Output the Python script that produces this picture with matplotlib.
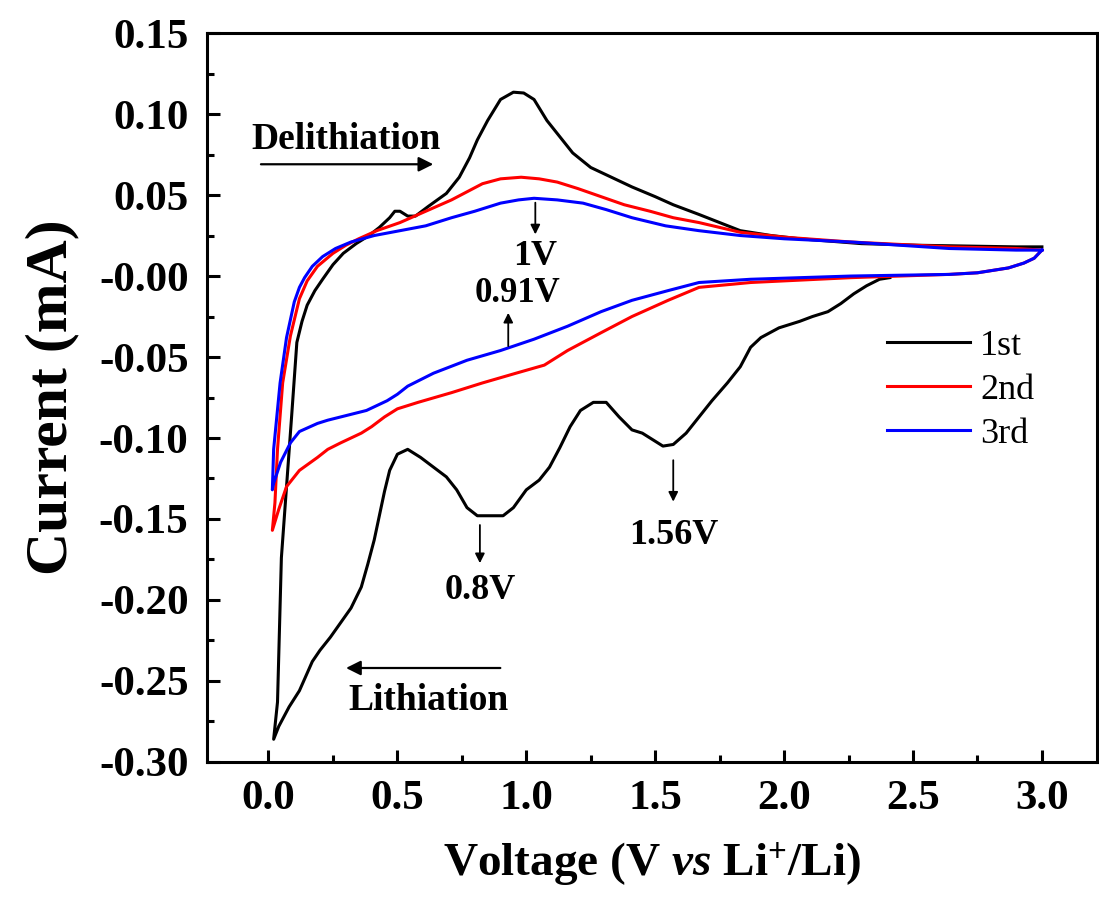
# Cyclic voltammetry curves, first three cycles
import numpy as np
import matplotlib.pyplot as plt

plt.rcParams['font.family'] = ['Liberation Serif', 'DejaVu Serif']
plt.rcParams['mathtext.fontset'] = 'custom'
plt.rcParams['mathtext.rm'] = 'Liberation Serif:bold'
plt.rcParams['mathtext.it'] = 'Liberation Serif:bold:italic'
plt.rcParams['mathtext.bf'] = 'Liberation Serif:bold'

# 1st cycle: from OCV down to 0.01 V, then back up to 3.0 V
v1 = [2.41, 2.37, 2.32, 2.27, 2.22, 2.17, 2.11, 2.06, 1.98, 1.91, 1.87, 1.83, 1.78,
      1.72, 1.67, 1.62, 1.57, 1.53, 1.49, 1.45, 1.41, 1.36, 1.31, 1.26, 1.21, 1.17,
      1.13, 1.09, 1.05, 1.00, 0.95, 0.91, 0.86, 0.81, 0.77, 0.73, 0.69, 0.64, 0.59,
      0.54, 0.50, 0.47, 0.45, 0.43, 0.41, 0.385, 0.36, 0.32, 0.28, 0.24, 0.20, 0.17,
      0.12, 0.08, 0.04, 0.02,
      0.035, 0.05, 0.07, 0.09, 0.11, 0.13, 0.15, 0.18, 0.21, 0.25, 0.29, 0.34, 0.39,
      0.43, 0.47, 0.49, 0.51, 0.54, 0.57, 0.62, 0.69, 0.74, 0.78, 0.81, 0.85, 0.90,
      0.95, 0.99, 1.03, 1.08, 1.13, 1.18, 1.25, 1.29, 1.41, 1.50, 1.57, 1.67, 1.75,
      1.83, 1.95, 2.06, 2.30, 2.52, 2.90, 3.00]
i1 = [-0.001, -0.002, -0.006, -0.011, -0.017, -0.022, -0.025, -0.028, -0.032, -0.038,
      -0.044, -0.056, -0.066, -0.077, -0.087, -0.097, -0.104, -0.105, -0.101, -0.097,
      -0.095, -0.087, -0.078, -0.078, -0.083, -0.093, -0.106, -0.118, -0.126, -0.132,
      -0.143, -0.148, -0.148, -0.148, -0.143, -0.132, -0.124, -0.118, -0.112, -0.107,
      -0.110, -0.120, -0.133, -0.148, -0.163, -0.178, -0.192, -0.205, -0.214, -0.223,
      -0.231, -0.238, -0.256, -0.266, -0.278, -0.286,
      -0.263, -0.174, -0.130, -0.086, -0.041, -0.028, -0.018, -0.009, -0.002, 0.007,
      0.014, 0.020, 0.025, 0.030, 0.036, 0.040, 0.040, 0.037, 0.037, 0.043, 0.051,
      0.061, 0.073, 0.084, 0.096, 0.109, 0.1135, 0.113, 0.109, 0.096, 0.086, 0.076,
      0.067, 0.064, 0.055, 0.049, 0.044, 0.038, 0.033, 0.028, 0.025, 0.023, 0.020,
      0.019, 0.018, 0.018]

# 2nd cycle
v2 = [3.00, 2.97, 2.93, 2.87, 2.75, 2.64, 2.26, 1.87, 1.67, 1.55, 1.41, 1.29, 1.16,
      1.07, 0.96, 0.83, 0.71, 0.58, 0.50, 0.45, 0.40, 0.36, 0.32, 0.28, 0.23, 0.19,
      0.12, 0.07, 0.04, 0.015,
      0.025, 0.035, 0.055, 0.085, 0.12, 0.15, 0.19, 0.25, 0.30, 0.35, 0.42, 0.51,
      0.61, 0.71, 0.83, 0.90, 0.98, 1.05, 1.12, 1.20, 1.29, 1.38, 1.48, 1.57, 1.67,
      1.75, 1.83, 2.00, 2.26, 2.64, 2.90, 3.00]
i2 = [0.016, 0.011, 0.008, 0.005, 0.002, 0.001, -0.001, -0.004, -0.007, -0.015,
      -0.025, -0.035, -0.046, -0.055, -0.060, -0.066, -0.072, -0.078, -0.082, -0.087,
      -0.093, -0.097, -0.100, -0.103, -0.107, -0.112, -0.120, -0.130, -0.144, -0.157,
      -0.140, -0.107, -0.066, -0.037, -0.014, -0.003, 0.006, 0.014, 0.019, 0.023,
      0.028, 0.033, 0.040, 0.047, 0.057, 0.060, 0.061, 0.060, 0.058, 0.054, 0.049,
      0.044, 0.040, 0.036, 0.033, 0.030, 0.027, 0.024, 0.021, 0.018, 0.017, 0.016]

# 3rd cycle
v3 = [3.00, 2.97, 2.93, 2.87, 2.75, 2.64, 2.26, 1.87, 1.67, 1.55, 1.41, 1.29, 1.16,
      1.03, 0.90, 0.77, 0.64, 0.54, 0.50, 0.46, 0.42, 0.38, 0.33, 0.28, 0.23, 0.19,
      0.12, 0.085, 0.047, 0.02, 0.015,
      0.02, 0.045, 0.07, 0.10, 0.12, 0.14, 0.17, 0.21, 0.26, 0.32, 0.41, 0.51, 0.61,
      0.71, 0.80, 0.90, 0.97, 1.03, 1.12, 1.22, 1.31, 1.41, 1.54, 1.67, 1.83, 2.00,
      2.26, 2.64, 2.90, 3.00]
i3 = [0.016, 0.011, 0.008, 0.005, 0.002, 0.001, 0.000, -0.002, -0.004, -0.009,
      -0.015, -0.022, -0.031, -0.039, -0.046, -0.052, -0.060, -0.068, -0.073, -0.077,
      -0.080, -0.083, -0.085, -0.087, -0.089, -0.091, -0.096, -0.103, -0.115, -0.128,
      -0.132,
      -0.107, -0.066, -0.038, -0.016, -0.007, -0.001, 0.006, 0.012, 0.017, 0.021,
      0.025, 0.028, 0.031, 0.036, 0.040, 0.045, 0.047, 0.048, 0.047, 0.045, 0.041,
      0.036, 0.031, 0.028, 0.025, 0.023, 0.021, 0.017, 0.016, 0.016]

fig = plt.figure(figsize=(10.99, 9.06), dpi=100)
ax = fig.add_axes([0.188, 0.159, 0.8105, 0.8045])

lw = 2.2
ax.plot(v1, i1, color='black', lw=lw, label='1st', solid_joinstyle='round')
ax.plot(v2, i2, color='#ff0000', lw=lw, label='2nd', solid_joinstyle='round')
ax.plot(v3, i3, color='#0000ff', lw=lw, label='3rd', solid_joinstyle='round')

ax.set_xlim(-0.24, 3.215)
ax.set_ylim(-0.30, 0.15)
ax.set_xticks(np.arange(0, 3.01, 0.5))
ax.set_xticks(np.arange(0.25, 3.01, 0.5), minor=True)
ax.set_yticks(np.arange(-0.30, 0.151, 0.05))
ax.set_yticks(np.arange(-0.275, 0.15, 0.05), minor=True)
ax.xaxis.set_major_formatter(plt.FormatStrFormatter('%.1f'))
ax.yaxis.set_major_formatter(plt.FormatStrFormatter('%.2f'))

ax.tick_params(which='both', direction='in', top=False, right=False, width=2.2)
ax.tick_params(which='major', length=9, labelsize=31, pad=13)
ax.tick_params(which='minor', length=5)
for lab in ax.get_xticklabels() + ax.get_yticklabels():
    lab.set_fontweight('bold')
for sp in ax.spines.values():
    sp.set_linewidth(2.2)

ax.set_xlabel(r'Voltage (V $\mathit{vs}$ Li$^{+}$/Li)', fontsize=34, fontweight='bold', labelpad=16)
ax.set_ylabel('Current (mA)', fontsize=43, fontweight='bold', labelpad=14)

# scan direction arrows
akw = dict(arrowstyle='-|>', color='black', lw=1.6, mutation_scale=22)
ax.annotate('', xy=(0.65, 0.069), xytext=(-0.04, 0.069), arrowprops=akw)
ax.text(0.30, 0.084, 'Delithiation', fontsize=27, fontweight='bold', ha='center', va='center')
ax.annotate('', xy=(0.29, -0.242), xytext=(0.91, -0.242), arrowprops=akw)
ax.text(0.62, -0.262, 'Lithiation', fontsize=27, fontweight='bold', ha='center', va='center')

# peak markers
pkw = dict(arrowstyle='-|>', color='black', lw=1.3, mutation_scale=14)
ax.annotate('', xy=(1.035, 0.024), xytext=(1.035, 0.047), arrowprops=pkw)
ax.text(1.035, 0.012, '1V', fontsize=26, fontweight='bold', ha='center', va='center')
ax.annotate('', xy=(0.93, -0.021), xytext=(0.93, -0.045), arrowprops=pkw)
ax.text(0.965, -0.0105, '0.91V', fontsize=25, fontweight='bold', ha='center', va='center')
ax.annotate('', xy=(0.82, -0.179), xytext=(0.82, -0.152), arrowprops=pkw)
ax.text(0.82, -0.194, '0.8V', fontsize=26, fontweight='bold', ha='center', va='center')
ax.annotate('', xy=(1.57, -0.141), xytext=(1.57, -0.112), arrowprops=pkw)
ax.text(1.57, -0.160, '1.56V', fontsize=26, fontweight='bold', ha='center', va='center')

ax.legend(loc='center left', bbox_to_anchor=(0.764, 0.510), frameon=False, fontsize=26,
          handlelength=2.3, handletextpad=0.28, labelspacing=0.3, borderaxespad=0,
          borderpad=0)

fig.savefig('out.png', dpi=100)
